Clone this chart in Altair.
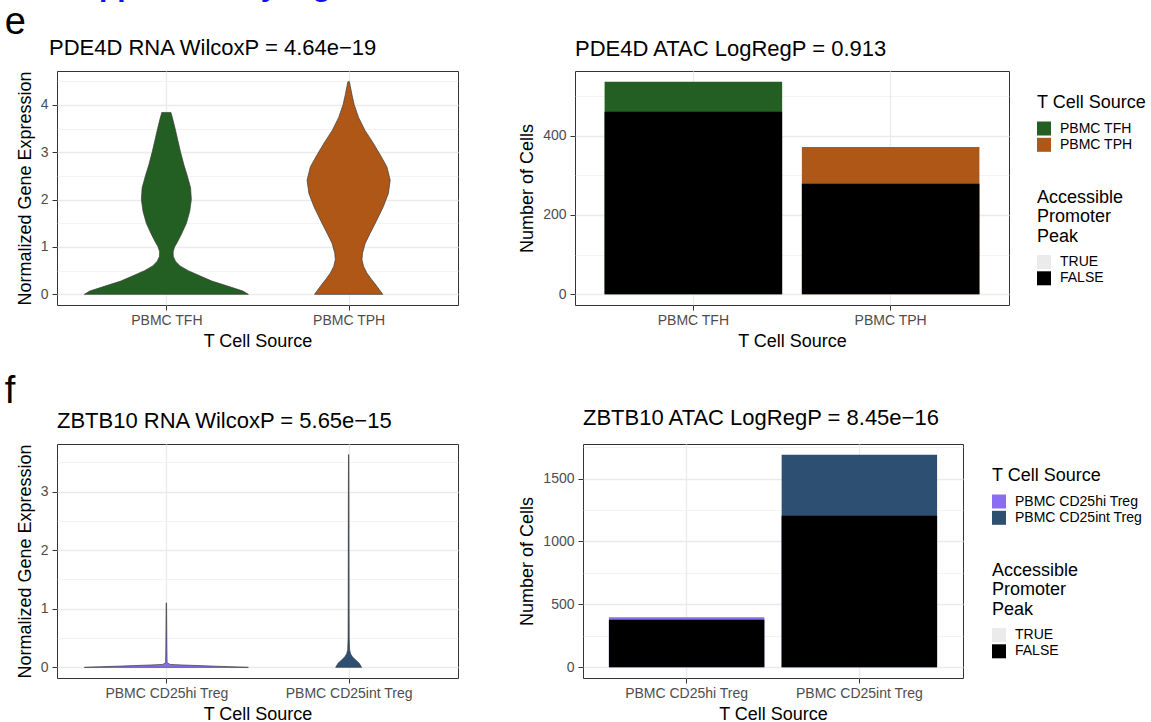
import json
import numpy as np
import pandas as pd
import altair as alt

FONT = "Liberation Sans"
GRID = "#EBEBEB"
BORDER = "#333333"

page_heading = "Supplementary Figure 7"

# ---------------- panel e : PDE4D ----------------
e_label = "e"
e_rna_title = "PDE4D RNA WilcoxP = 4.64e\u221219"
e_atac_title = "PDE4D ATAC LogRegP = 0.913"
e_sources = ["PBMC TFH", "PBMC TPH"]
e_colors = ["#235E22", "#AE5716"]

# violin outlines: expression level and half-width (category units)
tfh_level = [0.0, 0.07, 0.17, 0.28, 0.38, 0.5, 0.6, 0.7, 0.8, 0.9, 1.0, 1.1, 1.25, 1.5,
             1.75, 2.0, 2.25, 2.5, 2.75, 3.0, 3.25, 3.5, 3.7, 3.84]
tfh_half = [0.45, 0.42, 0.34, 0.25, 0.19, 0.12, 0.075, 0.05, 0.038, 0.037, 0.045, 0.06, 0.08, 0.11,
            0.128, 0.137, 0.133, 0.115, 0.095, 0.078, 0.063, 0.048, 0.035, 0.025]
tph_level = [0.0, 0.17, 0.31, 0.45, 0.59, 0.73, 0.87, 1.08, 1.29, 1.57, 1.85, 2.13, 2.41,
             2.69, 2.9, 3.18, 3.46, 3.73, 4.01, 4.22, 4.49]
tph_half = [0.187, 0.155, 0.127, 0.1, 0.082, 0.073, 0.076, 0.091, 0.118, 0.155, 0.19, 0.218, 0.228,
            0.21, 0.18, 0.137, 0.09, 0.055, 0.03, 0.018, 0.004]

e_false = [460, 279]
e_true = [76, 92]

# ---------------- panel f : ZBTB10 ----------------
f_label = "f"
f_rna_title = "ZBTB10 RNA WilcoxP = 5.65e\u221215"
f_atac_title = "ZBTB10 ATAC LogRegP = 8.45e\u221216"
f_sources = ["PBMC CD25hi Treg", "PBMC CD25int Treg"]
f_colors = ["#8A6DF0", "#2D5072"]

hi_level = [0.0, 0.01, 0.02, 0.03, 0.04, 0.05, 0.08, 0.3, 0.7, 1.1]
hi_half = [0.45, 0.36, 0.27, 0.18, 0.09, 0.02, 0.004, 0.003, 0.002, 0.001]
int_level = [0.0, 0.07, 0.12, 0.18, 0.23, 0.3, 0.5, 1.0, 2.0, 3.0, 3.63]
int_half = [0.071, 0.058, 0.04, 0.021, 0.011, 0.005, 0.003, 0.0025, 0.002, 0.0015, 0.0008]

f_false = [378, 1205]
f_true = [20, 485]

peak_levels = ["TRUE", "FALSE"]
peak_colors = ["#EBEBEB", "#000000"]
peak_title = ["Accessible", "Promoter", "Peak"]
source_title = "T Cell Source"

PANEL_H = 234


def y_axis(title, major, minor, top):
    vals = [float(v) for v in np.round(np.arange(0, top + 1e-9, minor), 6)]
    test = f"datum.value % {major} === 0"
    return alt.Axis(
        title=title, values=vals, grid=True, gridColor=GRID,
        gridWidth={"condition": {"test": test, "value": 1.3}, "value": 0.6},
        tickOpacity={"condition": {"test": test, "value": 1}, "value": 0},
        labelExpr=f"({test}) ? format(datum.value, 'd') : ''",
        labelOverlap=False, labelPadding=4, titlePadding=6,
    )


def panel_title(text, dx=0):
    return alt.TitleParams(text, anchor="start", fontSize=22, fontWeight="normal", font=FONT,
                           color="black", baseline="alphabetic", offset=-6.5, dx=dx,
                           frame="group")


def violin_panel(title, sources, colors, profiles, major, minor, width, dx=0):
    rows = []
    for i, (src, (lv, hw)) in enumerate(zip(sources, profiles)):
        for l, h in zip(lv, hw):
            rows.append({"source": src, "level": l, "left": i + 1 - h, "right": i + 1 + h})
    df = pd.DataFrame(rows)
    ymax = float(df["level"].max())
    pad = 0.05 * ymax
    n = len(sources)
    x = alt.X("left:Q", stack=None,
              scale=alt.Scale(domain=[0.4, n + 0.6], nice=False, zero=False),
              axis=alt.Axis(title=source_title, values=list(range(1, n + 1)),
                            labelExpr=f"{json.dumps(sources)}[round(datum.value) - 1]",
                            grid=True, gridColor=GRID, gridWidth=1.3))
    y = alt.Y("level:Q", scale=alt.Scale(domain=[-pad, ymax + pad], nice=False, zero=False),
              axis=y_axis("Normalized Gene Expression", major, minor, ymax + pad))
    return alt.Chart(df).mark_area(orient="horizontal", stroke="#3C3C3C", strokeWidth=0.7,
                                   fillOpacity=1).encode(
        x=x, x2="right:Q", y=y,
        color=alt.Color("source:N", scale=alt.Scale(domain=sources, range=colors), legend=None),
        detail="source:N",
    ).properties(width=width, height=PANEL_H, title=panel_title(title, dx))


def bar_panel(title, sources, colors, n_false, n_true, major, minor, width, legend_x):
    df = pd.DataFrame({"source": sources, "n_false": n_false, "n_true": n_true})
    df["total"] = df["n_false"] + df["n_true"]
    df["peak"] = peak_levels[1]
    ymax = float(df["total"].max())
    pad = 0.05 * ymax
    x = alt.X("source:N", sort=sources,
              scale=alt.Scale(paddingInner=0.1, paddingOuter=0.15),
              axis=alt.Axis(title=source_title, labelAngle=0, grid=True, gridColor=GRID,
                            gridWidth=1.3))
    yscale = alt.Scale(domain=[-pad, ymax + pad], nice=False, zero=False)
    yax = y_axis("Number of Cells", major, minor, ymax + pad)
    common = dict(orient="none", legendX=legend_x, symbolType="square", symbolSize=196,
                  symbolStrokeWidth=0, symbolOpacity=1, labelFont=FONT, titleFont=FONT,
                  labelFontSize=14, titleFontSize=18, labelColor="black", titleColor="black",
                  titleFontWeight="normal", rowPadding=2.3, labelOffset=9, titlePadding=9.5,
                  padding=0, labelLimit=300, titleLimit=300, titleLineHeight=19.5)
    base = alt.Chart(df)
    whole = base.mark_bar().encode(
        x=x, y=alt.Y("total:Q", scale=yscale, axis=yax),
        color=alt.Color("source:N", scale=alt.Scale(domain=sources, range=colors),
                        legend=alt.Legend(title=source_title, legendY=23, **common)),
    )
    closed = base.mark_bar().encode(
        x=x, y=alt.Y("n_false:Q", scale=yscale, axis=yax),
        fill=alt.Fill("peak:N", scale=alt.Scale(domain=peak_levels, range=peak_colors),
                      legend=alt.Legend(title=peak_title, legendY=117.5, **common)),
    )
    return alt.layer(whole, closed).properties(width=width, height=PANEL_H,
                                               title=panel_title(title))


def row_title(text):
    return alt.TitleParams(text, anchor="start", fontSize=38, fontWeight="normal", font=FONT,
                           color="black", baseline="alphabetic", offset=-34.6, dx=-11,
                           frame="bounds")


def independent(c):
    return c.resolve_scale(x="independent", y="independent", color="independent",
                           fill="independent").resolve_legend(color="independent",
                                                              fill="independent")


row_e = independent(alt.hconcat(
    violin_panel(e_rna_title, e_sources, e_colors,
                 [(tfh_level, tfh_half), (tph_level, tph_half)], 1, 0.5, 401, dx=-8),
    bar_panel(e_atac_title, e_sources, e_colors, e_false, e_true, 200, 100, 434, 462),
    spacing=59, title=row_title(e_label),
))
row_f = independent(alt.hconcat(
    violin_panel(f_rna_title, f_sources, f_colors,
                 [(hi_level, hi_half), (int_level, int_half)], 1, 0.5, 401),
    bar_panel(f_atac_title, f_sources, f_colors, f_false, f_true, 500, 250, 380, 409),
    spacing=59, title=row_title(f_label),
))

heading = alt.TitleParams(page_heading, anchor="start", fontSize=30, fontWeight="bold",
                          font=FONT, color="#1010F0", baseline="alphabetic", offset=-22.4,
                          dx=56, frame="bounds")

chart = independent(alt.vconcat(row_e, row_f, spacing=21, title=heading)).properties(
    padding={"left": 4, "top": -29, "right": 2, "bottom": 2}
).configure(font=FONT).configure_view(
    stroke=BORDER, strokeWidth=1
).configure_axis(
    labelFont=FONT, titleFont=FONT, labelFontSize=14, titleFontSize=18,
    labelColor="#4D4D4D", titleColor="black", titleFontWeight="normal",
    tickColor=BORDER, tickSize=5, tickWidth=1, domain=False,
    labelPadding=3, titlePadding=5.5,
).configure_title(font=FONT, fontWeight="normal", color="black")

chart.save("out.html", embed_options={"renderer": "svg", "actions": False})
